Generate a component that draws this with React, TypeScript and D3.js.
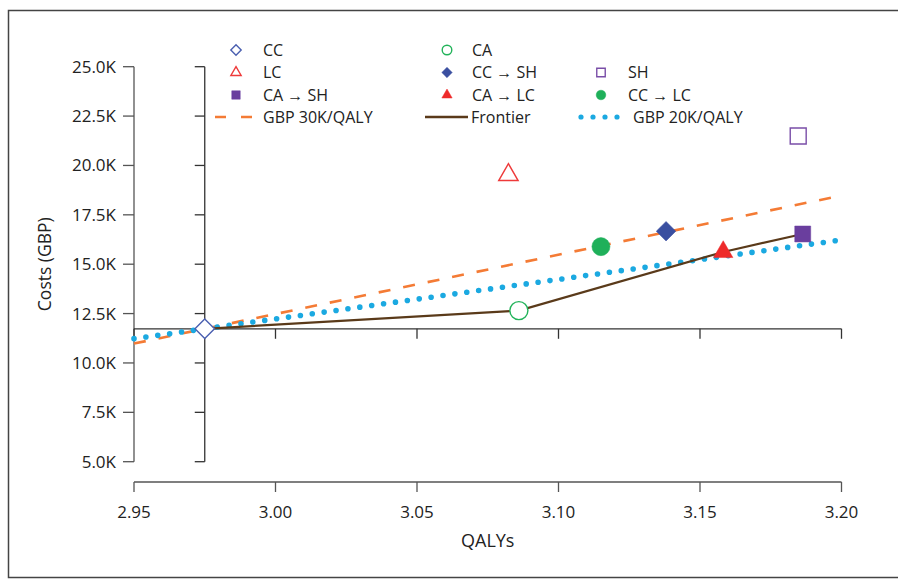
import React from "react";
import * as d3 from "d3";

const strategies = ["CC", "CA", "LC", "CC → SH", "SH", "CA → SH", "CA → LC", "CC → LC"];
const qalys = [2.975, 3.086, 3.0823, 3.138, 3.1847, 3.1863, 3.1582, 3.115];
const costs = [11.73, 12.65, 19.52, 16.67, 21.49, 16.53, 15.62, 15.89];
const shapes = ["diamond", "circle", "triangle", "diamond", "square", "square", "triangle", "circle"];
const filled = [false, false, false, true, false, true, true, true];
const colors = ["#4a5fb0", "#22b35a", "#ee3a3a", "#3a4fa0", "#7a4ea8", "#6a3e9e", "#ee2a2a", "#1fb05a"];

const frontier = ["CC", "CA", "CA → LC", "CA → SH"];
const wtpValues = [30, 20];
const wtpLabels = ["GBP 30K/QALY", "GBP 20K/QALY"];

const xTicks = [2.95, 3.0, 3.05, 3.1, 3.15, 3.2];
const yTicks = [5, 7.5, 10, 12.5, 15, 17.5, 20, 22.5, 25];

const legendRows = [
  ["CC", "CA", null],
  ["LC", "CC → SH", "SH"],
  ["CA → SH", "CA → LC", "CC → LC"],
];

const FONT = "'Open Sans', 'Noto Sans', sans-serif";

function symbolPath(shape: string, size: number) {
  const t =
    shape === "diamond" ? d3.symbolDiamond2 :
    shape === "circle" ? d3.symbolCircle :
    shape === "triangle" ? d3.symbolTriangle2 : d3.symbolSquare2;
  return d3.symbol(t, size)() as string;
}

function Marker({ i, x, y, scale }: { i: number; x: number; y: number; scale: number }) {
  const shape = shapes[i];
  const base = shape === "diamond" ? 180 : shape === "circle" ? 190 : shape === "triangle" ? 200 : 240;
  const size = base * scale;
  const f = filled[i];
  return (
    <path
      d={symbolPath(shape, size)}
      transform={`translate(${x},${y})`}
      fill={f ? colors[i] : "#fff"}
      stroke={colors[i]}
      strokeWidth={f ? 0.5 : 1.4}
    />
  );
}

export default function App() {
  const W = 898, H = 583;
  const x = d3.scaleLinear().domain([2.95, 3.2]).range([134, 841.5]);
  const y = d3.scaleLinear().domain([5, 25]).range([461.7, 66.7]);
  const ccIdx = strategies.indexOf("CC");
  const cx = qalys[ccIdx], cy = costs[ccIdx];
  const line = d3.line<[number, number]>().x((d) => x(d[0])).y((d) => y(d[1]));
  const frontierPts: [number, number][] = frontier.map((s) => {
    const i = strategies.indexOf(s);
    return [qalys[i], costs[i]];
  });
  const wtpLine = (k: number) =>
    line([
      [2.95, cy + (2.95 - cx) * k],
      [3.2, cy + (3.2 - cx) * k],
    ]);
  const axisColor = "#555";
  const innerColor = "#333";
  const ccx = x(cx), ccy = y(cy);

  const legendCols = [{ sx: 236, tx: 263 }, { sx: 447, tx: 472 }, { sx: 601, tx: 628 }];
  const rowY = [50, 72.5, 95, 117];

  return (
    <svg width={W} height={H} style={{ position: "absolute", left: 0, top: 0 }} fontFamily={FONT}>
      <rect x={0} y={0} width={W} height={H} fill="#fff" />
      <rect x={8.5} y={10.5} width={W + 10} height={567} fill="none" stroke="#444" strokeWidth={1.5} />

      {/* main y axis */}
      <line x1={134} x2={134} y1={y(25)} y2={y(5)} stroke={axisColor} strokeWidth={1.3} />
      {yTicks.map((t) => (
        <g key={"yt" + t}>
          <line x1={123} x2={134} y1={y(t)} y2={y(t)} stroke={axisColor} strokeWidth={1.3} />
          <text x={116} y={y(t)} dy="0.35em" textAnchor="end" fontSize={17} fill="#222">
            {d3.format(".1f")(t) + "K"}
          </text>
        </g>
      ))}
      {/* inner y axis at CC QALY */}
      <line x1={ccx} x2={ccx} y1={y(25)} y2={y(5)} stroke={innerColor} strokeWidth={1.3} />
      {yTicks.map((t) => (
        <line key={"yi" + t} x1={ccx - 10} x2={ccx} y1={y(t)} y2={y(t)} stroke={innerColor} strokeWidth={1.3} />
      ))}
      <text transform={`translate(45,${(y(25) + y(5)) / 2}) rotate(-90)`} textAnchor="middle" dy="0.35em" fontSize={17.5} fill="#222">
        Costs (GBP)
      </text>

      {/* main x axis */}
      <line x1={x(2.95)} x2={x(3.2)} y1={482} y2={482} stroke={axisColor} strokeWidth={1.3} />
      {xTicks.map((t) => (
        <g key={"xt" + t}>
          <line x1={x(t)} x2={x(t)} y1={482} y2={492} stroke={axisColor} strokeWidth={1.3} />
          <text x={x(t)} y={512} dy="0.35em" textAnchor="middle" fontSize={17} fill="#222">
            {d3.format(".2f")(t)}
          </text>
        </g>
      ))}
      <text x={(x(2.95) + x(3.2)) / 2} y={541} dy="0.35em" textAnchor="middle" fontSize={18} fill="#222">
        QALYs
      </text>
      {/* inner x axis at CC cost */}
      <line x1={x(2.95)} x2={x(3.2)} y1={ccy} y2={ccy} stroke={innerColor} strokeWidth={1.3} />
      {xTicks.map((t) => (
        <line key={"xi" + t} x1={x(t)} x2={x(t)} y1={ccy} y2={ccy + 10} stroke={innerColor} strokeWidth={1.3} />
      ))}

      {/* WTP lines */}
      <path d={wtpLine(wtpValues[0]) as string} fill="none" stroke="#f47b35" strokeWidth={2.6} strokeDasharray="12 13" />
      <path d={wtpLine(wtpValues[1]) as string} fill="none" stroke="#1ba9e1" strokeWidth={5.6} strokeDasharray="0 12" strokeLinecap="round" />
      {/* frontier */}
      <path d={line(frontierPts) as string} fill="none" stroke="#5a3a1a" strokeWidth={2.2} />

      {/* markers */}
      {strategies.map((s, i) => (
        <Marker key={s} i={i} x={x(qalys[i])} y={y(costs[i])} scale={1.35} />
      ))}

      {/* legend */}
      {legendRows.map((row, r) =>
        row.map((s, c) => {
          if (!s) return null;
          const i = strategies.indexOf(s);
          return (
            <g key={"lg" + s}>
              <Marker i={i} x={legendCols[c].sx} y={rowY[r]} scale={0.38} />
              <text x={legendCols[c].tx} y={rowY[r]} dy="0.35em" fontSize={16} fill="#222">
                {s}
              </text>
            </g>
          );
        })
      )}
      <line x1={215} x2={253} y1={rowY[3]} y2={rowY[3]} stroke="#f47b35" strokeWidth={2.6} strokeDasharray="11 15" />
      <text x={263} y={rowY[3]} dy="0.35em" fontSize={16} fill="#222">{wtpLabels[0]}</text>
      <line x1={425} x2={468} y1={rowY[3]} y2={rowY[3]} stroke="#5a3a1a" strokeWidth={2.4} />
      <text x={471} y={rowY[3]} dy="0.35em" fontSize={16} fill="#222">Frontier</text>
      <line x1={581} x2={618} y1={rowY[3]} y2={rowY[3]} stroke="#1ba9e1" strokeWidth={5.2} strokeDasharray="0 12" strokeLinecap="round" />
      <text x={633} y={rowY[3]} dy="0.35em" fontSize={16} fill="#222">{wtpLabels[1]}</text>
    </svg>
  );
}
